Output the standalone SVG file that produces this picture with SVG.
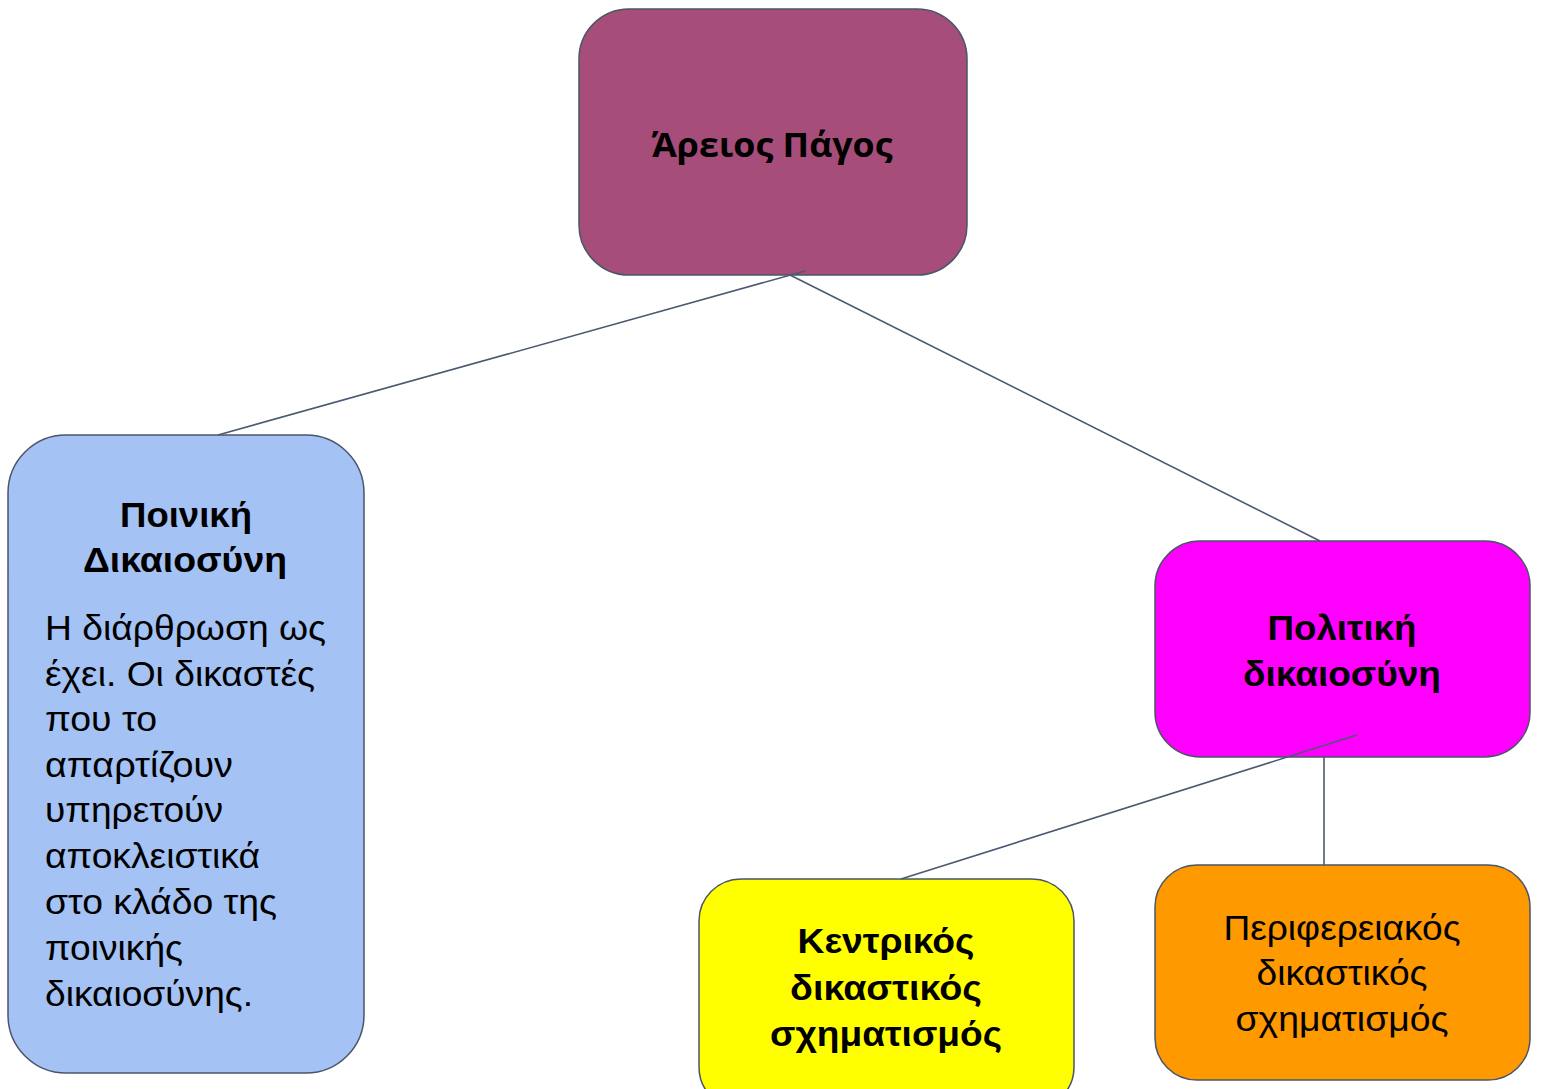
<svg xmlns="http://www.w3.org/2000/svg" width="1541" height="1089" viewBox="0 0 1541 1089">
<style>
.n{stroke:#4a5568;stroke-width:1.5}
.c{stroke:#4a5a70;stroke-width:1.6;fill:none}
.t{font-family:"Liberation Sans",Arial,sans-serif;font-size:35px;fill:#000}
.b{font-weight:bold}
.m{text-anchor:middle}
.cal{font-family:"Open Sans","Noto Sans",sans-serif;font-size:34px;font-weight:bold;fill:#000}
</style>
<rect width="1541" height="1089" fill="#fff"/>
<g id="areios-pagos">
<rect class="n" x="579" y="9" width="388" height="266" rx="50" fill="#a64d79"/>
<text class="cal m" x="772" y="157" textLength="241" lengthAdjust="spacingAndGlyphs">Άρειος Πάγος</text>
</g>
<g id="poiniki">
<rect class="n" x="8" y="435" width="356" height="638" rx="58" fill="#a4c2f4"/>
<text class="t b m" x="186" y="527" textLength="132" lengthAdjust="spacingAndGlyphs">Ποινική</text>
<text class="t b m" x="185" y="572" textLength="204" lengthAdjust="spacingAndGlyphs">Δικαιοσύνη</text>
<text class="t" x="45" y="640" textLength="281" lengthAdjust="spacingAndGlyphs">Η διάρθρωση ως</text>
<text class="t" x="45" y="686" textLength="270" lengthAdjust="spacingAndGlyphs">έχει. Οι δικαστές</text>
<text class="t" x="45" y="731" textLength="112" lengthAdjust="spacingAndGlyphs">που το</text>
<text class="t" x="45" y="777" textLength="188" lengthAdjust="spacingAndGlyphs">απαρτίζουν</text>
<text class="t" x="45" y="822" textLength="178" lengthAdjust="spacingAndGlyphs">υπηρετούν</text>
<text class="t" x="45" y="868" textLength="215" lengthAdjust="spacingAndGlyphs">αποκλειστικά</text>
<text class="t" x="45" y="914" textLength="232" lengthAdjust="spacingAndGlyphs">στο κλάδο της</text>
<text class="t" x="45" y="960" textLength="138" lengthAdjust="spacingAndGlyphs">ποινικής</text>
<text class="t" x="45" y="1006" textLength="208" lengthAdjust="spacingAndGlyphs">δικαιοσύνης.</text>
</g>
<g id="politiki">
<rect class="n" x="1155" y="541" width="375" height="216" rx="45" fill="#ff00ff"/>
<text class="t b m" x="1342" y="640" textLength="149" lengthAdjust="spacingAndGlyphs">Πολιτική</text>
<text class="t b m" x="1342" y="686" textLength="198" lengthAdjust="spacingAndGlyphs">δικαιοσύνη</text>
</g>
<g id="kentrikos">
<rect class="n" x="699" y="879" width="375" height="230" rx="42" fill="#ffff00"/>
<text class="t b m" x="886" y="953" textLength="177" lengthAdjust="spacingAndGlyphs">Κεντρικός</text>
<text class="t b m" x="886" y="1000" textLength="192" lengthAdjust="spacingAndGlyphs">δικαστικός</text>
<text class="t b m" x="886" y="1046" textLength="232" lengthAdjust="spacingAndGlyphs">σχηματισμός</text>
</g>
<g id="periferiakos">
<rect class="n" x="1155" y="865" width="375" height="215" rx="42" fill="#ff9900"/>
<text class="t m" x="1342" y="940" textLength="237" lengthAdjust="spacingAndGlyphs">Περιφερειακός</text>
<text class="t m" x="1342" y="985" textLength="171" lengthAdjust="spacingAndGlyphs">δικαστικός</text>
<text class="t m" x="1342" y="1031" textLength="213" lengthAdjust="spacingAndGlyphs">σχηματισμός</text>
</g>
<g id="connectors">
<line class="c" x1="218" y1="435" x2="805" y2="271"/>
<line class="c" x1="790" y1="275" x2="1320" y2="541"/>
<line class="c" x1="1357" y1="735" x2="901" y2="879"/>
<line class="c" x1="1324" y1="757" x2="1324" y2="865"/>
</g>
</svg>
